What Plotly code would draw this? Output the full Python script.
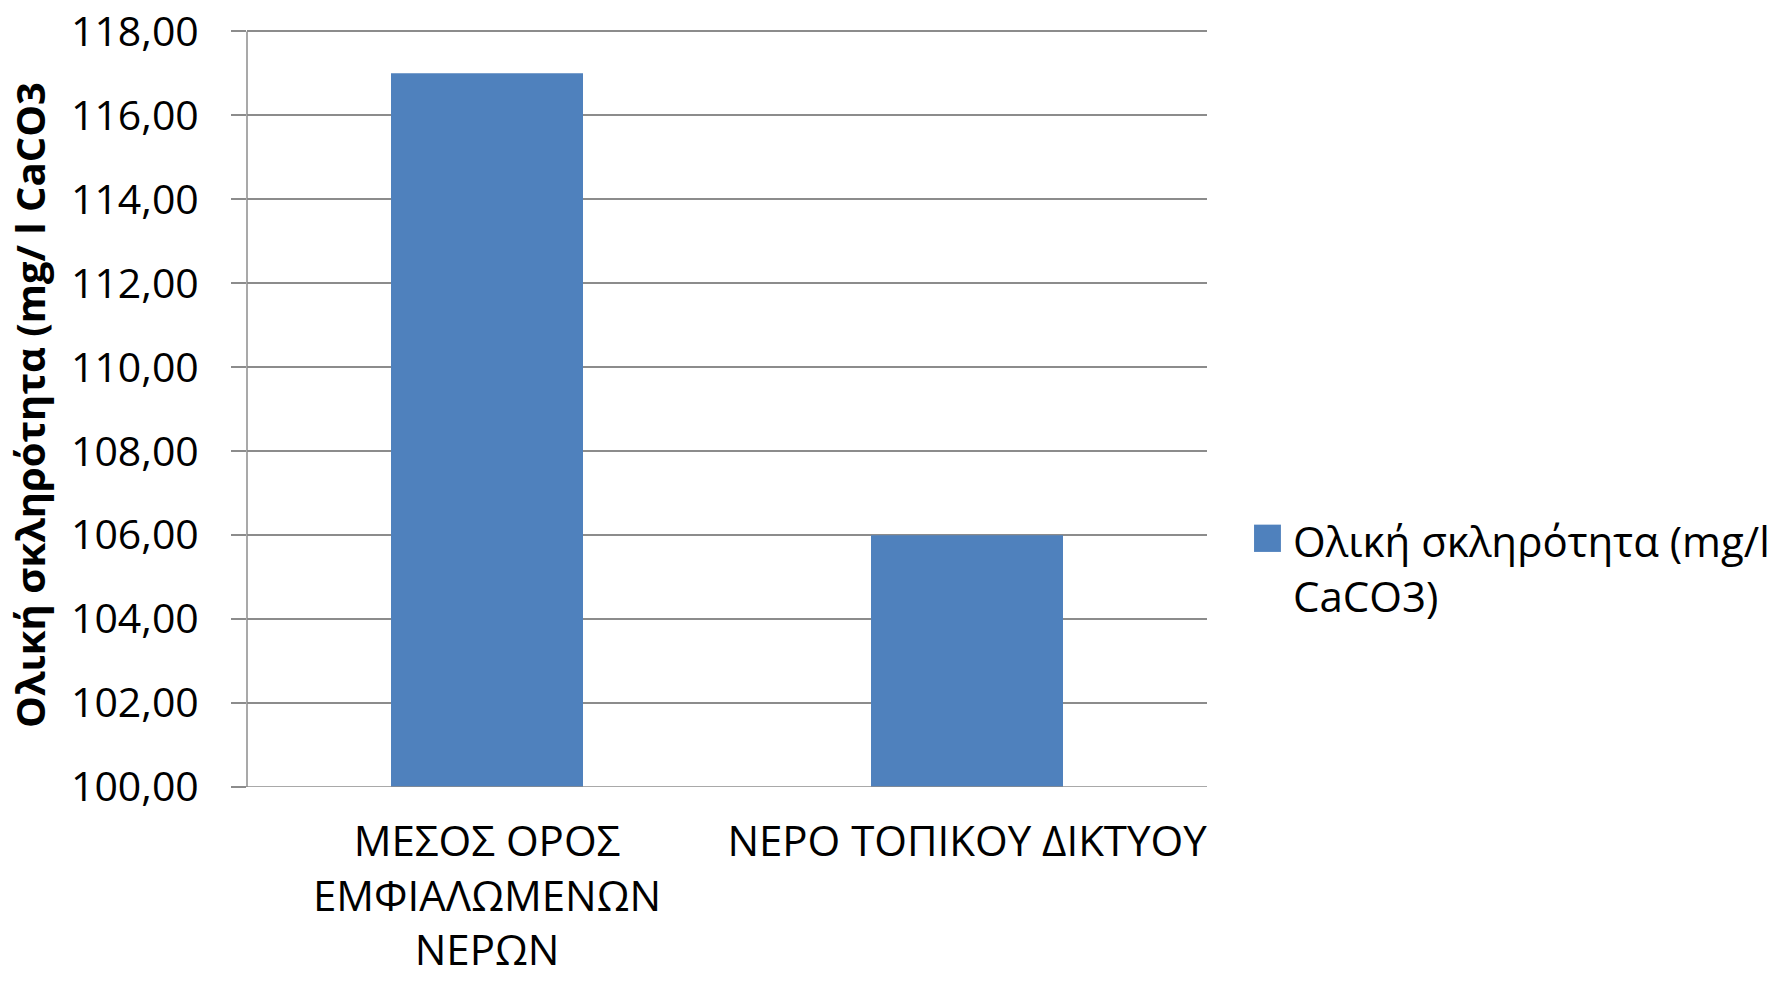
import plotly.graph_objects as go

# Data
categories = ["ΜΕΣΟΣ ΟΡΟΣ<br>ΕΜΦΙΑΛΩΜΕΝΩΝ<br>ΝΕΡΩΝ", "ΝΕΡΟ ΤΟΠΙΚΟΥ ΔΙΚΤΥΟΥ"]
hardness = [117.0, 106.0]
series_name = "Ολική σκληρότητα (mg/l<br>CaCO3)"
y_title = "Ολική σκληρότητα (mg/ l CaCO3"
y_ticks = [100, 102, 104, 106, 108, 110, 112, 114, 116, 118]
y_ticklabels = ["100,00", "102,00", "104,00", "106,00", "108,00",
                "110,00", "112,00", "114,00", "116,00", "118,00"]

BAR_COLOR = "#4F81BD"
GRID = "#8C8C8C"
FONT = "Open Sans, Noto Sans, sans-serif"

fig = go.Figure()
fig.add_trace(go.Bar(x=categories, y=hardness, name=series_name,
                     marker=dict(color=BAR_COLOR, line=dict(width=0)),
                     width=0.4, showlegend=False))

# y range runs a little past 118 so plotly keeps the top gridline/label
fig.update_layout(
    width=1788, height=981,
    margin=dict(l=247, r=581, t=22.6, b=194, autoexpand=False),
    plot_bgcolor="white", paper_bgcolor="white",
    font=dict(family=FONT, size=41, color="black"),
    showlegend=False,
)

fig.update_xaxes(showgrid=False, showline=False, ticks="", tickfont=dict(size=42),
                 ticklabelstandoff=26, automargin=False)
fig.update_yaxes(range=[100, 118.2], tickvals=y_ticks, ticktext=y_ticklabels,
                 showgrid=True, gridcolor=GRID, gridwidth=1.5,
                 showline=False,
                 ticks="outside", ticklen=15, tickcolor=GRID, tickwidth=1.5,
                 ticklabelstandoff=24, ticklabeloverflow="allow",
                 zeroline=False, automargin=False,
                 title=dict(text="<b>" + y_title + "</b>", font=dict(size=40), standoff=12))

# Axis line from 100 to 118, and baseline at 100 extending through the tick area
fig.add_shape(type="line", xref="paper", yref="y", x0=0, x1=0, y0=100, y1=118,
              line=dict(color=GRID, width=1.5))
fig.add_shape(type="line", xref="paper", yref="y", x0=-0.0156, x1=1, y0=100, y1=100,
              line=dict(color=GRID, width=1.5))

# Legend key drawn manually (Excel-sized marker)
fig.add_shape(type="rect", xref="paper", yref="y",
              x0=1.049, x1=1.077, y0=105.6, y1=106.25,
              fillcolor=BAR_COLOR, line=dict(width=0))
fig.add_annotation(xref="paper", yref="y", x=1.088, y=106.6,
                   xanchor="left", yanchor="top", align="left",
                   text=series_name, showarrow=False,
                   font=dict(size=42, family=FONT))

# drop the default body margin so the figure fills the window exactly
fig.write_html("out.html", config={"displayModeBar": False},
               post_script="document.body.style.margin='0';")
